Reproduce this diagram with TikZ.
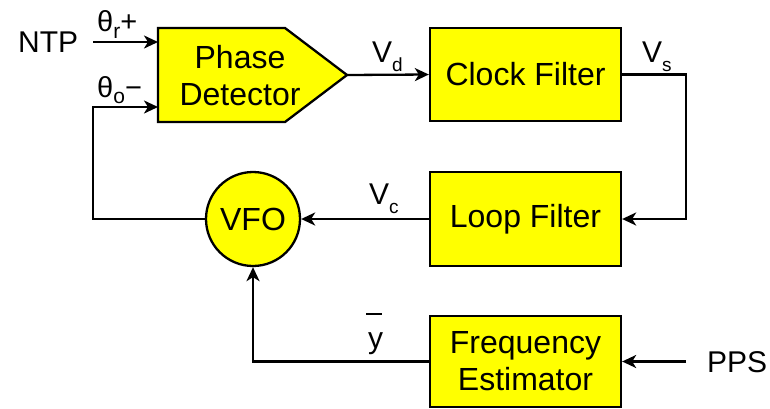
\documentclass[tikz,border=0pt]{standalone}
\usepackage{fontspec}
\setmainfont{Liberation Sans}
\usetikzlibrary{arrows.meta}
\definecolor{ylw}{RGB}{255,255,0}
\begin{document}
\begin{tikzpicture}[x=1pt,y=-1pt,
  blk/.style={draw, line width=2.3pt, fill=ylw, minimum width=191pt, align=center,
    font=\fontsize{32}{37}\selectfont, inner sep=0pt},
  conn/.style={line width=2.3pt, -{Stealth[length=14pt,width=13pt,inset=4pt]}},
  lbl/.style={inner sep=0pt, anchor=base west, font=\fontsize{30}{34}\selectfont}]
\useasboundingbox (0,0) rectangle (770,408);

% Phase detector
\draw[line width=2.3pt, fill=ylw] (158,28) -- (285,28) -- (347,75) -- (285,122) -- (158,122) -- cycle;
\node[align=center, inner sep=0pt, font=\fontsize{32}{37}\selectfont] (pd) at (240,76) {Phase\\Detector};
\coordinate (pdin1) at (158,42);
\coordinate (pdin2) at (158,107);
\coordinate (pdtip) at (347,75);

% blocks
\node[blk, minimum height=93pt] (cf) at (525.5,74.5) {Clock Filter};
\node[blk, minimum height=94pt] (lf) at (525.5,219) {Loop Filter};
\node[blk, minimum height=91pt] (fe) at (525.5,361.5) {Frequency\\Estimator};
\node[draw, circle, line width=2.3pt, fill=ylw, minimum size=94pt, inner sep=0pt,
  font=\fontsize{32}{37}\selectfont] (vfo) at (253,219) {VFO};

% external labels
\node[lbl] (ntp) at (18,52) {NTP};
\node[lbl] (pps) at (707,372) {PPS};
\coordinate (ntpa) at (93,42);
\coordinate (ppsa) at (686,361.5);
\coordinate (fbc) at (93,107);
\coordinate (rt) at (686,0);

% connectors
\draw[conn] (ntpa) -- (pdin1);
\draw[conn] (vfo.west) -| (fbc) -- (pdin2);
\draw[conn] (pdtip) -- (cf.west);
\draw[conn] (cf.east) -- (cf.east -| rt) -- (lf.east -| rt) -- (lf.east);
\draw[conn] (lf.west) -- (vfo.east);
\draw[conn] (fe.west) -| (vfo.south);
\draw[conn] (ppsa) -- (fe.east);

% signal labels
\node[lbl, font=\fontsize{29}{30}\selectfont] (thr) at (97,31) {θ\raisebox{-7pt}{\fontsize{21}{21}\selectfont r}+};
\node[lbl, font=\fontsize{29}{30}\selectfont] (tho) at (97,97) {θ\raisebox{-6pt}{\fontsize{21}{21}\selectfont o}−};
\node[lbl] (vd) at (372,62) {V\raisebox{-9pt}{\fontsize{19}{19}\selectfont d}};
\node[lbl] (vs) at (642,62) {V\raisebox{-9pt}{\fontsize{19}{19}\selectfont s}};
\node[lbl] (vc) at (369,204) {V\raisebox{-9pt}{\fontsize{19}{19}\selectfont c}};
\node[lbl] (ybar) at (368,348) {\makebox[0pt][l]{\hspace{-2pt}\raisebox{33pt}{\rule{16pt}{2pt}}}y};
\end{tikzpicture}
\end{document}
